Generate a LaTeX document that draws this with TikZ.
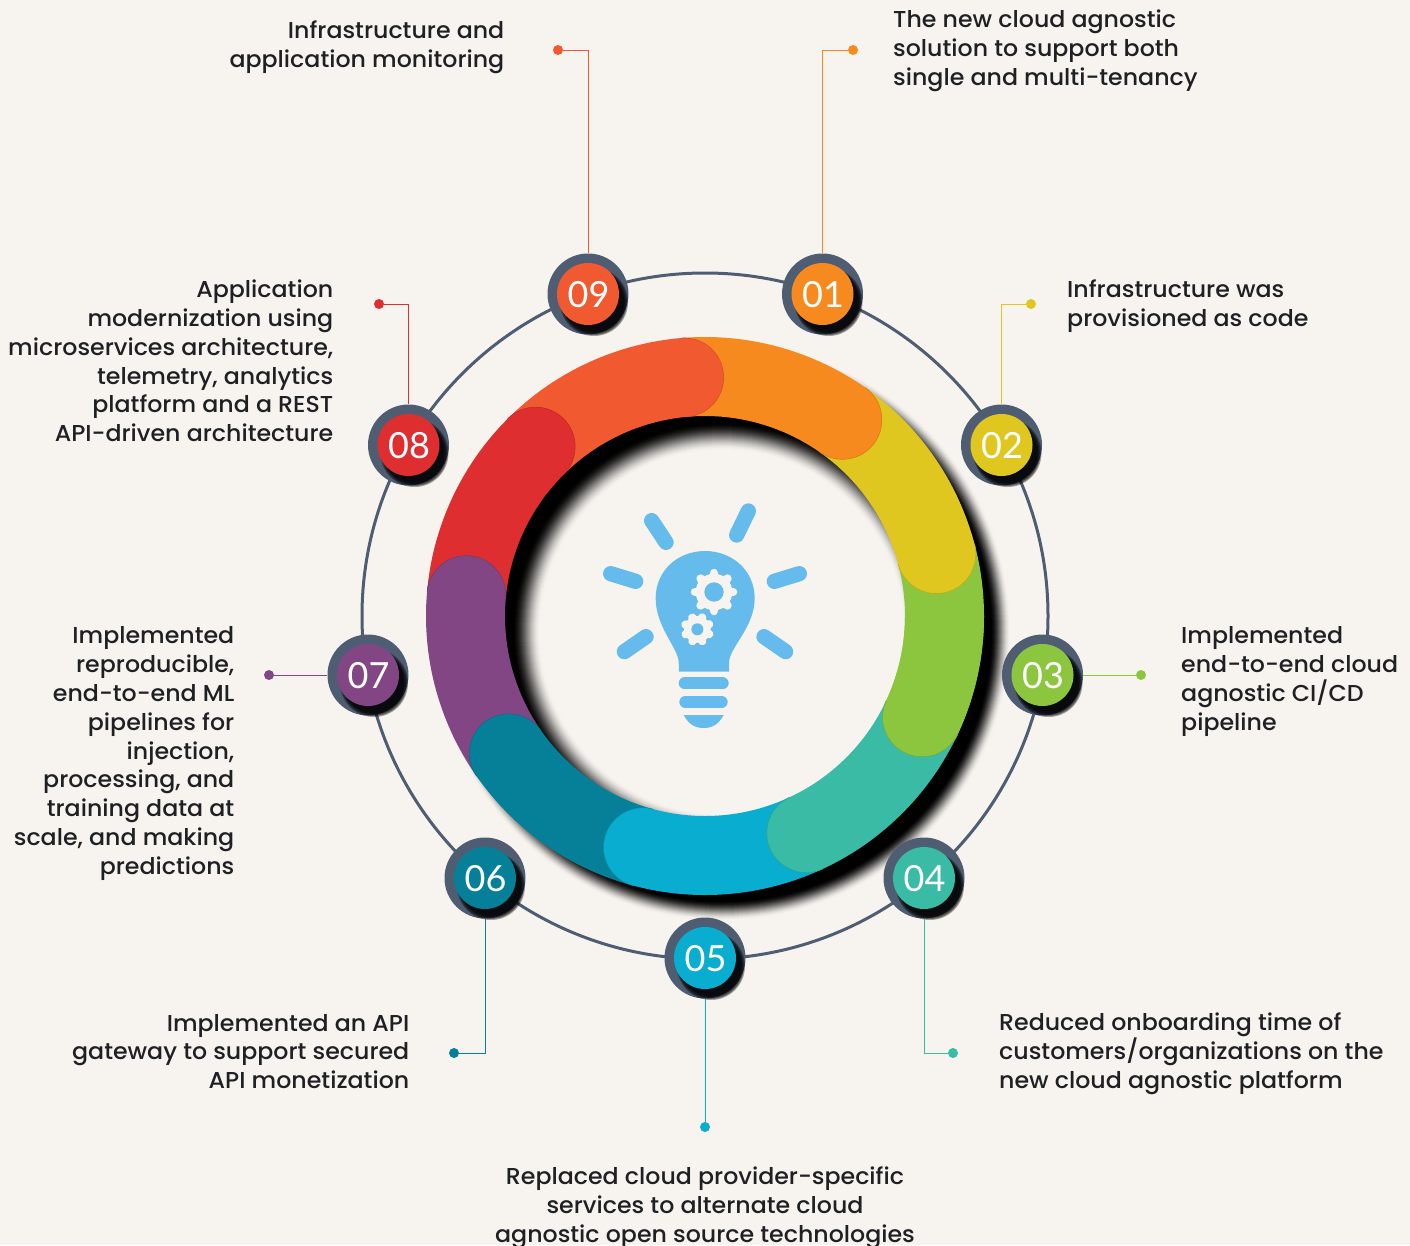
\documentclass[tikz,border=0pt]{standalone}
\usepackage{fontspec}
\setmainfont{Poppins Medium}[FakeStretch=1.03]
\newfontfamily\numfont{Lato}
\definecolor{bgc}{HTML}{F7F4EF}
\definecolor{ringc}{HTML}{4F5D73}
\definecolor{bulbc}{HTML}{65BBEC}
\definecolor{txtc}{HTML}{1F2023}
\definecolor{cA}{HTML}{F78A1F}
\definecolor{cB}{HTML}{E0C71F}
\definecolor{cC}{HTML}{8CC63F}
\definecolor{cD}{HTML}{39BBA6}
\definecolor{cE}{HTML}{09ADCF}
\definecolor{cF}{HTML}{068099}
\definecolor{cG}{HTML}{824685}
\definecolor{cH}{HTML}{DE2E30}
\definecolor{cI}{HTML}{F15A31}
\tikzset{
  label text/.style={inner sep=0pt,text=txtc,font=\fontsize{23}{28.8}\selectfont},
  right label/.style={label text,align=right},
  left label/.style={label text,align=left},
  mid label/.style={label text,align=center},
  badge disc/.style={circle,fill=ringc,minimum size=81pt,inner sep=0pt},
  num disc/.style={circle,fill=none,minimum size=62pt,inner sep=0pt,text=white,font=\numfont\fontsize{36}{36}\selectfont},
  end dot/.style={circle,minimum size=10pt,inner sep=0pt},
  wire/.style={line width=1pt},
  ray/.style={bulbc,line width=15.3pt,line cap=round},
  bar/.style={bulbc,line width=12pt,line cap=round}
}
% segment: colour, from visual angle, to visual angle
\newcommand{\ringseg}[3]{%
  \fill[#1] ({-(#2)}:279) arc[start angle={-(#2)},end angle={-(#3)},radius=279]
     arc[start angle={-(#3)},end angle={-(#3)+180},radius=39.5]
     arc[start angle={-(#3)},end angle={-(#2)},radius=200] -- cycle;
  \draw[#1!85!black,line width=.5pt] ({-(#3)}:279) arc[start angle={-(#3)},end angle={-(#3)+180},radius=39.5];
}
\newcommand{\badgeat}[5]{%
  \node[badge disc] (b#1) at (#2,#3) {};
  \foreach \rr in {34,33,32,31,30}{\fill[black,opacity=.35] ($(b#1)+(6,8)$) circle[radius=\rr];}
  \fill[#4] (b#1) circle[radius=31];
  \node[num disc] (n#1) at ($(b#1)+(.5,.5)$) {#5};
}
\newcommand{\gearat}[5]{% cx cy body tooth-radius rot (zoom coordinates)
  \fill[bgc] (#1,#2) circle[radius=#3];
  \foreach \tt in {0,45,...,315}{\draw[bgc,line width=8.5pt,line cap=round] (#1,#2) -- ++({\tt+#5}:{#4-13});}
}
\usetikzlibrary{calc}
\begin{document}
\begin{tikzpicture}[x=1pt,y=1pt,yscale=-1]
\useasboundingbox (0,0) rectangle (1410,1245);
\fill[bgc] (0,0) rectangle (1410,1245);
% thin ring
\draw[ringc,line width=3pt] (705,616) circle[radius=343];
% ring shadow
\begin{scope}[shift={(722,632)}]
  \foreach \k in {0,...,20}{
    \pgfmathsetmacro{\u}{\k/20}
    \pgfmathsetmacro{\p}{100*(1-\u*\u*(3-2*\u))}
    \fill[bgc!\p!black] (0,0) circle[radius={279+10-\k}];
  }
  \fill[black] (0,0) circle[radius=269];
  \foreach \k in {0,...,28}{
    \pgfmathsetmacro{\u}{\k/28}
    \pgfmathsetmacro{\p}{100*\u*\u*(3-2*\u)}
    \fill[bgc!\p!black] (0,0) circle[radius={196+14-\k}];
  }
\end{scope}
% ring segments
\begin{scope}[shift={(705,616)}]
  \ringseg{cC}{15}{-25}
  \ringseg{cB}{55}{15}
  \ringseg{cA}{95}{55}
  \ringseg{cI}{135}{95}
  \ringseg{cH}{175}{135}
  \ringseg{cG}{215}{175}
  \ringseg{cF}{255}{215}
  \ringseg{cE}{295}{255}
  \ringseg{cD}{335}{295}
  \ringseg{cC}{0}{-25}
\end{scope}
% bulb
\begin{scope}[shift={(590,490)},scale=1/3]
  \draw[ray] (185,92) -- (228,157);
  \draw[ray] (475,63) -- (440,135);
  \draw[ray] (62,251) -- (137,274);
  \draw[ray] (628,251) -- (553,274);
  \draw[ray] (168,440) -- (103,485);
  \draw[ray] (522,440) -- (587,485);
  \fill[bulbc] (267,545) -- (266,515) .. controls (262,470) and (197,410) .. (197,325)
     .. controls (197,240) and (265,183) .. (345,183)
     .. controls (425,183) and (494,240) .. (494,325)
     .. controls (494,410) and (421,470) .. (417,515) -- (417,545) -- cycle;
  \draw[bar] (284,580) -- (398,580);
  \draw[bar] (286,636) -- (395,636);
  \fill[bulbc] (281,675) -- (401,675) .. controls (385,705) and (365,714) .. (341,714)
     .. controls (317,714) and (297,705) .. (281,675) -- cycle;
  \gearat{372}{306}{55}{70}{0}
  \fill[bulbc] (372,306) circle[radius=29];
  \gearat{322}{418}{40}{51}{22}
  \fill[bulbc] (322,418) circle[radius=18];
\end{scope}
% end dots
\node[end dot,fill=cI] (d9) at (558,50) {};
\node[end dot,fill=cA] (d1) at (853,50) {};
\node[end dot,fill=cB] (d2) at (1031,304) {};
\node[end dot,fill=cC] (d3) at (1141,675) {};
\node[end dot,fill=cD] (d4) at (953,1053) {};
\node[end dot,fill=cE] (d5) at (705,1127) {};
\node[end dot,fill=cF] (d6) at (454,1053) {};
\node[end dot,fill=cG] (d7) at (269,675) {};
\node[end dot,fill=cH] (d8) at (379,304) {};
% badges
\badgeat{1}{822.5}{294}{cA}{01}
\badgeat{2}{1001.5}{445}{cB}{02}
\badgeat{3}{1042.5}{675}{cC}{03}
\badgeat{4}{924}{878}{cD}{04}
\badgeat{5}{705}{958}{cE}{05}
\badgeat{6}{485}{878}{cF}{06}
\badgeat{7}{368}{675}{cG}{07}
\badgeat{8}{408.5}{445}{cH}{08}
\badgeat{9}{588}{294}{cI}{09}
% connectors
\draw[wire,cI] (d9) -| (b9.north);
\draw[wire,cA] (d1) -| (b1.north);
\draw[wire,cB] (d2) -| (b2.north);
\draw[wire,cC] (b3.east) -- (d3);
\draw[wire,cD] (b4.south) |- (d4);
\draw[wire,cE] (b5.south) -- (d5);
\draw[wire,cF] (b6.south) |- (d6);
\draw[wire,cG] (d7) -- (b7.west);
\draw[wire,cH] (d8) -| (b8.north);
% labels
\node[right label,anchor=east] (t9) at (504.5,47.5) {Infrastructure and\\application monitoring};
\node[left label,anchor=west] (t1) at (893,51) {The new cloud agnostic\\solution to support both\\single and multi-tenancy};
\node[left label,anchor=west] (t2) at (1067,306.5) {Infrastructure was\\provisioned as code};
\node[left label,anchor=west] (t3) at (1181,681.5) {Implemented\\end-to-end cloud\\agnostic CI/CD\\pipeline};
\node[left label,anchor=west] (t4) at (999,1054) {Reduced onboarding time of\\customers/organizations on the\\new cloud agnostic platform};
\node[mid label,anchor=center] (t5) at (705,1207.5) {Replaced cloud provider-specific\\services to alternate cloud\\agnostic open source technologies};
\node[right label,anchor=east] (t6) at (409.5,1051.5) {Implemented an API\\gateway to support secured\\API monetization};
\node[right label,anchor=east] (t7) at (234.5,753.5) {Implemented\\reproducible,\\end-to-end ML\\pipelines for\\injection,\\processing, and\\training data at\\scale, and making\\predictions};
\node[right label,anchor=east] (t8) at (333.5,361) {Application\\modernization using\\microservices architecture,\\telemetry, analytics\\platform and a REST\\API-driven architecture};
\end{tikzpicture}
\end{document}
